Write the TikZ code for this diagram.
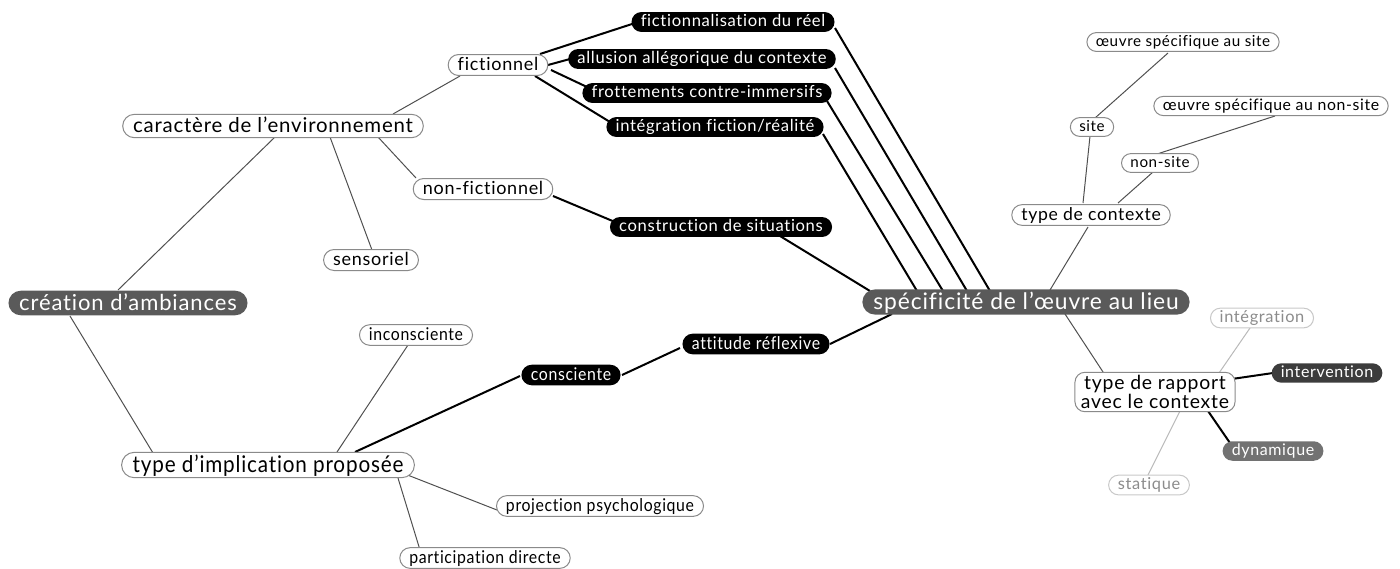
\documentclass[tikz,border=0pt]{standalone}
\usepackage{fontspec}
\setmainfont{Lato}[LetterSpace=4,Ligatures={NoCommon}]
\usetikzlibrary{shapes.misc,calc,backgrounds}
\definecolor{darkfill}{HTML}{5A5A5A}
\definecolor{intfill}{HTML}{3C3C3C}
\definecolor{dynfill}{HTML}{727272}
\definecolor{wborder}{HTML}{8A8A8A}
\definecolor{lborder}{HTML}{C8C8C8}
\definecolor{ltext}{HTML}{8C8C8C}
\definecolor{thinline}{HTML}{505050}
\tikzset{
  pill/.style={rounded rectangle, inner xsep=3pt, inner ysep=1.3pt, text depth=0.25ex},
  big/.style={pill, fill=darkfill, text=white, font=\fontsize{11}{12}\selectfont},
  med/.style={pill, draw=wborder, fill=white, line width=0.5pt, font=\fontsize{9}{10}\selectfont},
  sml/.style={pill, draw=wborder, fill=white, line width=0.5pt, font=\fontsize{7.6}{8}\selectfont},
  blk/.style={pill, fill=black, text=white, font=\fontsize{8.3}{9}\selectfont},
  lgt/.style={pill, draw=lborder, fill=white, line width=0.5pt, text=ltext, font=\fontsize{8.2}{9}\selectfont},
  cnds/.style={font=\fontsize{8.8}{9}\selectfont},
  thin/.style={draw=thinline, line width=0.5pt},
  thick/.style={draw=black, line width=1pt},
  light/.style={draw=lborder!80!gray, line width=0.5pt},
}
\newcommand{\cnd}[1]{\scalebox{0.9}[1]{#1}}
\begin{document}
\begin{tikzpicture}[x=0.5pt,y=-0.5pt]
\useasboundingbox (0,0) rectangle (1400,568);
% nodes
\node[big] (cre) at (128,303) {création d’ambiances};
\node[med, font=\fontsize{10.2}{11}\selectfont] (car) at (273,126) {caractère de l’environnement};
\node[med] (fic) at (498,65) {fictionnel};
\node[med] (nfic) at (483,189) {non-fictionnel};
\node[med] (sens) at (371,260) {sensoriel};
\node[blk] (f1) at (733,22) {fictionnalisation du réel};
\node[blk] (f2) at (702,59) {allusion allégorique du contexte};
\node[blk] (f3) at (707,93) {frottements contre-immersifs};
\node[blk] (f4) at (715,127) {intégration fiction/réalité};
\node[blk] (cons) at (721,227) {construction de situations};
\node[big, font=\fontsize{11.4}{12}\selectfont] (spec) at (1026,302) {spécificité de l’œuvre au lieu};
\node[med, font=\fontsize{8.8}{10}\selectfont] (tctx) at (1091,215) {type de contexte};
\node[sml] (site) at (1092,127) {site};
\node[sml] (nsite) at (1160,163) {non-site};
\node[sml] (os) at (1183,42) {œuvre spécifique au site};
\node[sml, font=\fontsize{7.9}{8}\selectfont] (ons) at (1271,106) {œuvre spécifique au non-site};
\node[lgt] (integ) at (1262,318) {intégration};
\node[blk, fill=intfill, font=\fontsize{8}{9}\selectfont] (interv) at (1327,373) {intervention};
\node[draw=wborder, fill=white, line width=0.5pt, rounded corners=5pt, inner xsep=3pt, inner ysep=1.5pt, align=center, font=\fontsize{9.7}{9.5}\selectfont] (trap) at (1155,392) {type de rapport\\avec le contexte};
\node[blk, fill=dynfill, font=\fontsize{8}{9}\selectfont] (dyn) at (1273,451) {dynamique};
\node[lgt] (stat) at (1149,485) {statique};
\node[sml, cnds] (incon) at (416,335) {\cnd{inconsciente}};
\node[blk, cnds] (consc) at (571,375) {\cnd{consciente}};
\node[blk, cnds] (att) at (756,344) {\cnd{attitude réflexive}};
\node[med, font=\fontsize{11.5}{12}\selectfont] (timp) at (268,465) {\cnd{type d’implication proposée}};
\node[sml, cnds] (proj) at (600,506) {\cnd{projection psychologique}};
\node[sml, cnds] (part) at (485,558) {\cnd{participation directe}};
% edges
\begin{scope}[on background layer]
\draw[thin] ($(cre.center)+(-10,-13)$) -- ($(car.center)+(2,11)$);
\draw[thin] ($(cre.center)+(-58,13)$) -- ($(timp.center)+(-115,-12)$);
\draw[thin] ($(car.center)+(57,11)$) -- ($(sens.center)+(1,-10)$);
\draw[thin] ($(car.center)+(105,11)$) -- ($(nfic.center)+(-67,-11)$);
\draw[thin] ($(car.center)+(120,-12)$) -- ($(fic.center)+(-38,11)$);
\draw[thick] ($(fic.center)+(42,-11)$) -- ($(f1.center)+(-101,2)$);
\draw[thick] ($(fic.center)+(50,0)$) -- ($(f2.center)+(-132,0)$);
\draw[thick] ($(fic.center)+(53,5)$) -- ($(f3.center)+(-120,-6)$);
\draw[thick] ($(fic.center)+(37,11)$) -- ($(f4.center)+(-105,-5)$);
\draw[thick] ($(nfic.center)+(70,7)$) -- ($(cons.center)+(-106,-5)$);
\draw[thick] ($(cons.center)+(59,9)$) -- ($(spec.center)+(-156,-11)$);
\draw[thick] ($(f1.center)+(102,6)$) -- ($(spec.center)+(-36,-11)$);
\draw[thick] ($(f2.center)+(133,9)$) -- ($(spec.center)+(-59,-11)$);
\draw[thick] ($(f3.center)+(120,8)$) -- ($(spec.center)+(-83,-11)$);
\draw[thick] ($(f4.center)+(108,7)$) -- ($(spec.center)+(-109,-11)$);
\draw[thick] ($(att.center)+(74,0)$) -- ($(spec.center)+(-134,12)$);
\draw[thick] ($(consc.center)+(51,0)$) -- ($(att.center)+(-76,4)$);
\draw[thick] ($(timp.center)+(87,-13)$) -- ($(consc.center)+(-51,1)$);
\draw[thin] ($(timp.center)+(69,-13)$) -- ($(incon.center)+(-8,10)$);
\draw[thin] ($(timp.center)+(137,9)$) -- ($(proj.center)+(-103,4)$);
\draw[thin] ($(timp.center)+(130,13)$) -- ($(part.center)+(-65,-8)$);
\draw[thin] ($(spec.center)+(24,-12)$) -- ($(tctx.center)+(-3,12)$);
\draw[thin] ($(spec.center)+(39,12)$) -- ($(trap.center)+(-50,-17)$);
\draw[thin] ($(tctx.center)+(-8,-12)$) -- ($(site.center)+(-2,9)$);
\draw[thin] ($(tctx.center)+(27,-12)$) -- ($(nsite.center)+(-7,9)$);
\draw[thin] ($(site.center)+(3,-9)$) -- ($(os.center)+(-15,11)$);
\draw[thin] ($(nsite.center)+(-3,-9)$) -- ($(ons.center)+(4,10)$);
\draw[thick] ($(trap.center)+(63,-11)$) -- ($(interv.center)+(-54,0)$);
\draw[thick] ($(trap.center)+(53,19)$) -- ($(dyn.center)+(-43,-8)$);
\draw[light] ($(trap.center)+(64,-19)$) -- ($(integ.center)+(-12,10)$);
\draw[light] ($(trap.center)+(25,19)$) -- ($(stat.center)+(-2,-8)$);
\end{scope}
\end{tikzpicture}
\end{document}
